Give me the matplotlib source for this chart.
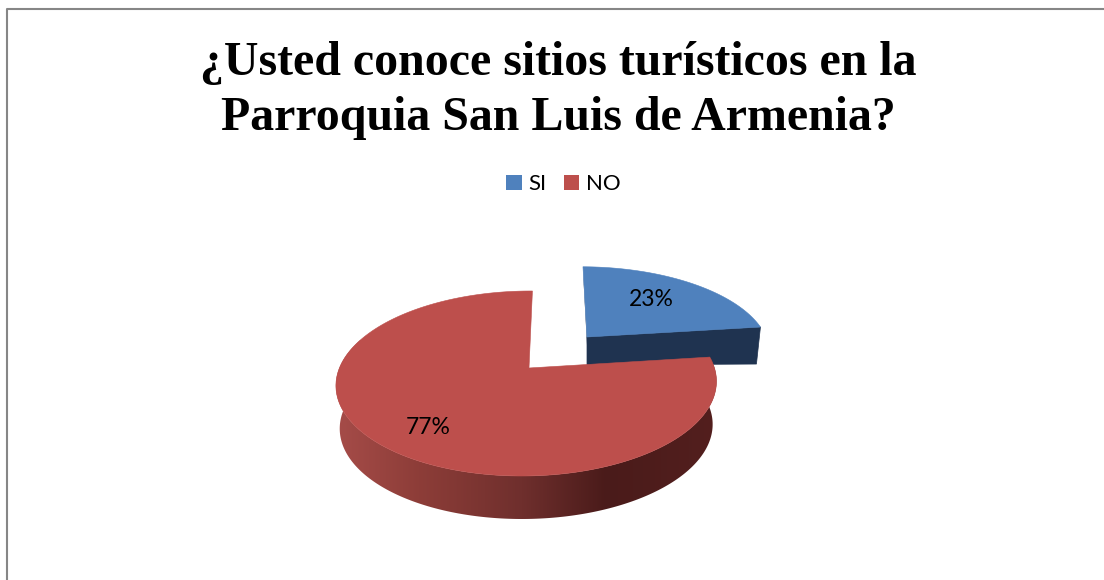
import numpy as np
import matplotlib
matplotlib.use("Agg")
import matplotlib.pyplot as plt
from matplotlib.patches import Polygon, Patch
from matplotlib.colors import LinearSegmentedColormap

title_lines = ["¿Usted conoce sitios turísticos en la", "Parroquia San Luis de Armenia?"]
categories = ["SI", "NO"]
values = [23, 77]
top_colors = ["#4f81bd", "#bd4f4c"]
label_pos = [(651, 299), (428, 427)]

W, H = 1104, 580
fig = plt.figure(figsize=(W / 100, H / 100), dpi=100)
ax = fig.add_axes([0, 0, 1, 1])
ax.set_xlim(0, W)
ax.set_ylim(H, 0)
ax.axis("off")

# projection of the pie disc onto the page
K, M = 0.1675, 0.011


def project(theta, x0, y0, a, b, s, depth=0.0, cx=None):
    X, Y = np.cos(theta), np.sin(theta)
    w = 1 + K * Y + M * X
    x = x0 + (a * X + s * Y) / w
    y = y0 - b * Y / w + depth
    if depth:
        x = cx + (x - cx) * 0.98
    return x, y


total = sum(values)
sweeps = [2 * np.pi * v / total for v in values]
start = np.pi / 2
si_t = np.linspace(start, start - sweeps[0], 120)
no_t = np.linspace(start - sweeps[0], start - sweeps[0] - sweeps[1], 400)

# border
ax.plot([6.5, 6.5, W], [H, 8.5, 8.5], color="#868686", lw=1.5, solid_capstyle="butt", zorder=1)

# SI slice
si = dict(x0=587, y0=337, a=181, b=82, s=-4.7)
sx, sy = project(si_t, **si)
d_si = 28
ax.add_patch(Polygon(np.c_[[sx[-1], 587, 587, sx[-1] - 4], [sy[-1], 337, 337 + d_si, sy[-1] + 37]],
                     fc="#1f3350", ec="#1f3350", lw=0.5, zorder=2))
ax.add_patch(Polygon(np.c_[[583, 587, 587, 583.5], [267, 337, 345, 280]], fc="#1f3350", ec="none", zorder=2))
ax.add_patch(Polygon(np.c_[np.r_[587, sx], np.r_[337, sy]], fc=top_colors[0], ec=top_colors[0], lw=0.4, zorder=3))

# NO slice
no = dict(x0=529, y0=368, a=187.5, b=89.9, s=4)
nx, ny = project(no_t, **no)
bx, by = project(no_t, **no, depth=43, cx=526)
wall_cmap = LinearSegmentedColormap.from_list(
    "wall",
    [(0.0, "#a64c49"), (0.22, "#8d3d38"), (0.49, "#6f2f2d"), (0.71, "#4a1b1a"), (1.0, "#531f1e")],
)
wall = Polygon(np.c_[np.r_[nx, bx[::-1]], np.r_[ny, by[::-1]]], fc="none", ec="none", zorder=4)
ax.add_patch(wall)
grad = ax.imshow(np.linspace(0, 1, 256)[None, :], cmap=wall_cmap, extent=(335, 717, 525, 340),
                 aspect="auto", zorder=4, interpolation="bilinear")
grad.set_clip_path(wall)
ax.set_xlim(0, W)
ax.set_ylim(H, 0)
ax.add_patch(Polygon(np.c_[np.r_[529, nx], np.r_[368, ny]], fc=top_colors[1], ec=top_colors[1], lw=0.4, zorder=5))

# percentage labels
for v, (lx, ly) in zip(values, label_pos):
    ax.text(lx, ly, f"{v}%", ha="center", va="center", family="Lato", fontsize=16.5, color="black", zorder=6)

# title
for line, y in zip(title_lines, [63, 118]):
    ax.text(558.5, y, line, ha="center", va="center", family="Liberation Serif", weight="bold",
            fontsize=34.5, color="black")

# legend
handles = [Patch(fc=c, ec="none") for c in top_colors]
ax.legend(handles, categories, loc="center", bbox_to_anchor=(563.5 / W, 1 - 184 / H), ncols=2, frameon=False,
          prop={"family": "Lato", "size": 16}, handlelength=0.68, handleheight=0.68, handletextpad=0.3,
          columnspacing=0.8)

fig.savefig("out.png", dpi=100, facecolor="white")
